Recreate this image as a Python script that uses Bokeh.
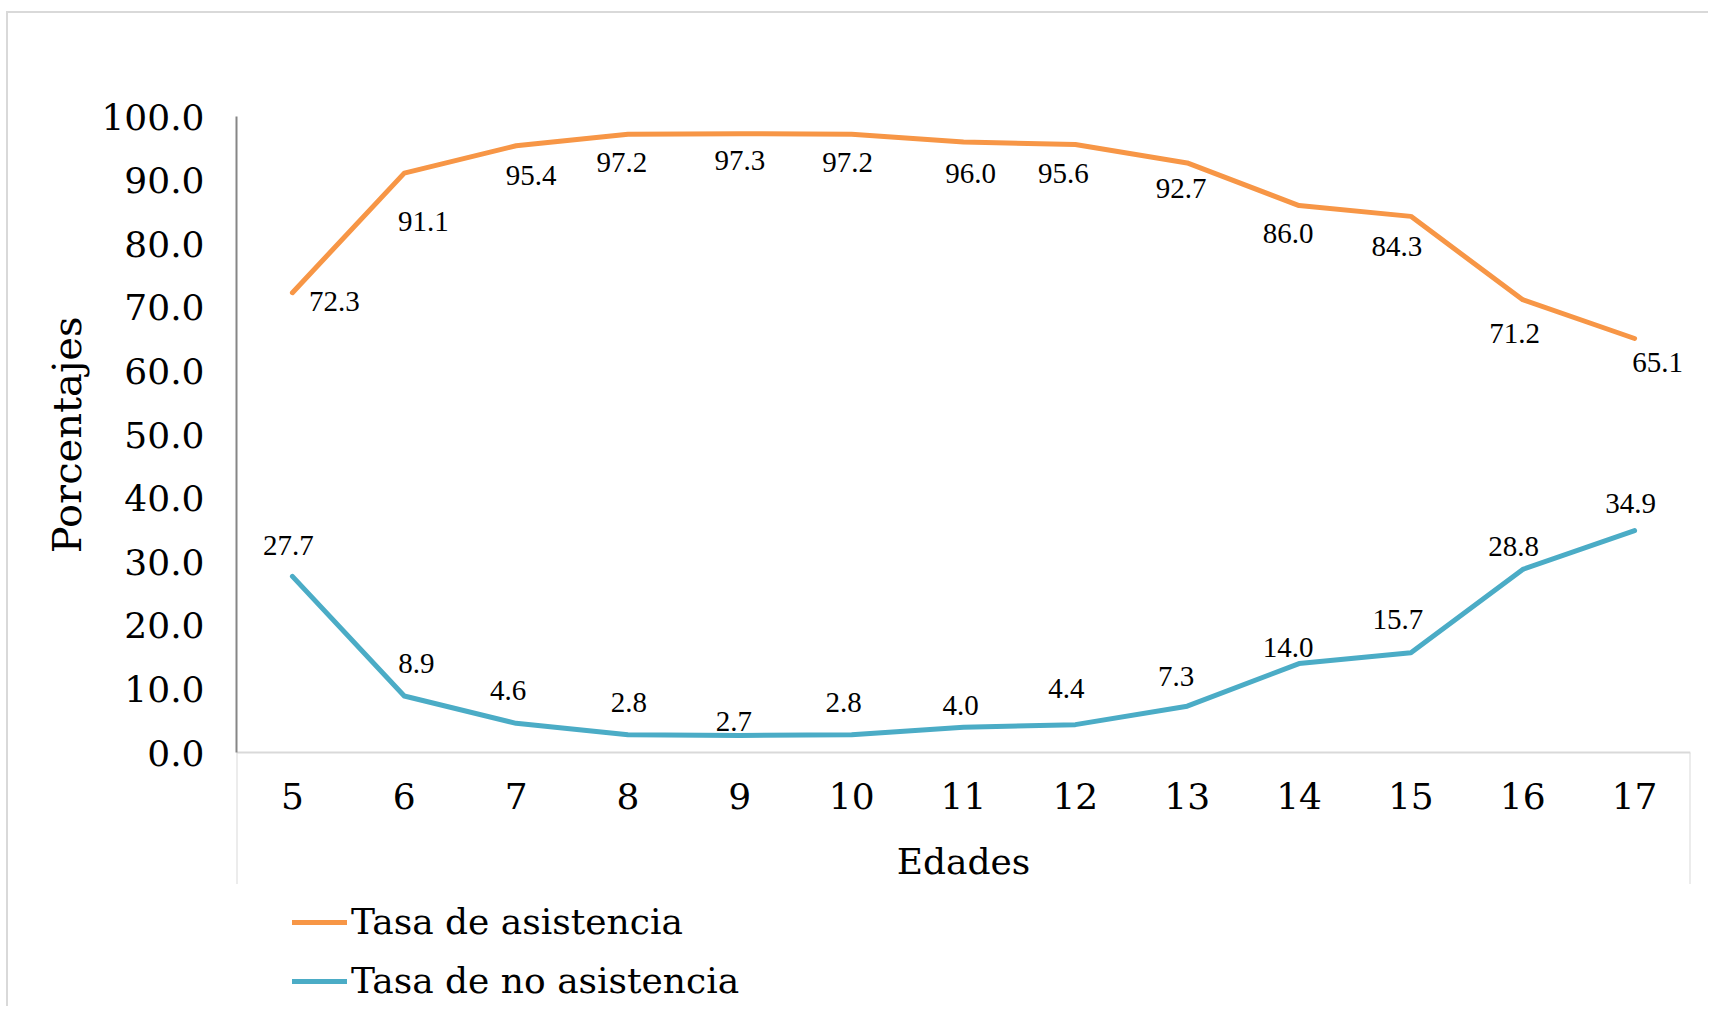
from bokeh.plotting import figure
from bokeh.models import (ColumnDataSource, LabelSet, Legend, LegendItem,
                          FixedTicker, NumeralTickFormatter, Range1d, Title)
from bokeh.embed import file_html
from bokeh.resources import INLINE

# ---- data ----
edades = [5, 6, 7, 8, 9, 10, 11, 12, 13, 14, 15, 16, 17]
asistencia = [72.3, 91.1, 95.4, 97.2, 97.3, 97.2, 96.0, 95.6, 92.7, 86.0, 84.3, 71.2, 65.1]
no_asistencia = [27.7, 8.9, 4.6, 2.8, 2.7, 2.8, 4.0, 4.4, 7.3, 14.0, 15.7, 28.8, 34.9]
y_ticks = [0, 10, 20, 30, 40, 50, 60, 70, 80, 90, 100]
serie_1 = "Tasa de asistencia"
serie_2 = "Tasa de no asistencia"
x_title = "Edades"
y_title = "Porcentajes"

# data-label nudges (screen px; dx right, dy up)
asis_dx = [42, 19, 15, -6, 0, -4, 7, -12, -6, -11, -14, -8, 23]
asis_dy = [-9, -48, -30, -28, -27, -28, -32, -29, -26, -28, -30, -34, -24]
no_dx = [-4, 12, -8, 1, -6, -8, -3, -9, -11, -11, -13, -9, -4]
no_dy = [31, 33, 33, 32, 14, 32, 22, 36, 30, 16, 33, 23, 27]

ORANGE = "#F79646"
BLUE = "#4BACC6"
FONT = "DejaVu Serif"
BOX_GRAY = "#d9d9d9"

x_lo, x_hi = edades[0] - 0.5, edades[-1] + 0.5
y_hi = 100
box_lo = -20.64      # bottom of the category-axis box
y_lo = -39.44        # frame extends down to hold the legend

p = figure(width=1702, height=995, output_backend="svg", toolbar_location=None,
           x_range=Range1d(x_lo, x_hi), y_range=Range1d(y_lo, y_hi),
           min_border_left=228, min_border_right=20,
           min_border_top=103, min_border_bottom=5)
p.styles = {"border-top": "2px solid #d9d9d9", "border-left": "2px solid #d9d9d9",
            "margin-top": "11px", "margin-left": "6px"}
p.outline_line_color = None
p.background_fill_color = "white"
p.border_fill_color = "white"
p.xgrid.grid_line_color = None
p.ygrid.grid_line_color = None

src = ColumnDataSource(dict(
    x=edades, a=asistencia, n=no_asistencia,
    a_txt=[f"{v:.1f}" for v in asistencia],
    n_txt=[f"{v:.1f}" for v in no_asistencia],
    adx=asis_dx, ady=asis_dy, ndx=no_dx, ndy=no_dy))

# box lines around category axis area
p.segment(x0=[x_lo, x_hi], y0=[0, 0], x1=[x_lo, x_hi], y1=[box_lo, box_lo],
          line_color=BOX_GRAY, line_width=2)

r1 = p.line("x", "a", source=src, line_color=ORANGE, line_width=5, line_cap="round", line_join="round")
r2 = p.line("x", "n", source=src, line_color=BLUE, line_width=5, line_cap="round", line_join="round")

for col, dx, dy in (("a", "adx", "ady"), ("n", "ndx", "ndy")):
    p.add_layout(LabelSet(x="x", y=col, text=col + "_txt", source=src,
                          x_offset=dx, y_offset=dy,
                          text_font=FONT, text_font_size="29px", text_color="black",
                          text_align="center", text_baseline="middle"))

# y axis
ya = p.yaxis[0]
ya.ticker = FixedTicker(ticks=y_ticks)
ya.formatter = NumeralTickFormatter(format="0.0")
ya.bounds = (0, 100)
ya.axis_line_color = "#868686"
ya.axis_line_width = 2
ya.major_tick_line_color = None
ya.minor_tick_line_color = None
ya.major_label_text_font = FONT
ya.major_label_text_font_size = "36px"
ya.major_label_text_color = "black"
ya.major_label_standoff = 26

# y title centred on the 0-100 span (placed as a side title)
p.add_layout(Title(text=y_title, align="right", offset=200,
                   text_font=FONT, text_font_size="40px",
                   text_font_style="normal", text_color="black",
                   standoff=17), "left")

# x axis
xa = p.xaxis[0]
xa.fixed_location = 0
xa.ticker = FixedTicker(ticks=edades)
xa.axis_line_color = BOX_GRAY
xa.axis_line_width = 2
xa.major_tick_line_color = None
xa.minor_tick_line_color = None
xa.major_label_text_font = FONT
xa.major_label_text_font_size = "36px"
xa.major_label_text_color = "black"
xa.major_label_standoff = 24
xa.axis_label = x_title
xa.axis_label_text_font = FONT
xa.axis_label_text_font_size = "36px"
xa.axis_label_text_font_style = "normal"
xa.axis_label_text_color = "black"
xa.axis_label_standoff = 29

legend = Legend(items=[LegendItem(label=serie_1, renderers=[r1]),
                       LegendItem(label=serie_2, renderers=[r2])],
                location=(56, 2), orientation="vertical",
                glyph_width=55, glyph_height=40, label_height=40, spacing=18,
                label_standoff=4, padding=0, margin=0,
                label_text_font=FONT, label_text_font_size="36px",
                label_text_color="black",
                border_line_color=None, background_fill_alpha=0)
p.add_layout(legend)

open("out.html", "w").write(file_html(p, INLINE))
